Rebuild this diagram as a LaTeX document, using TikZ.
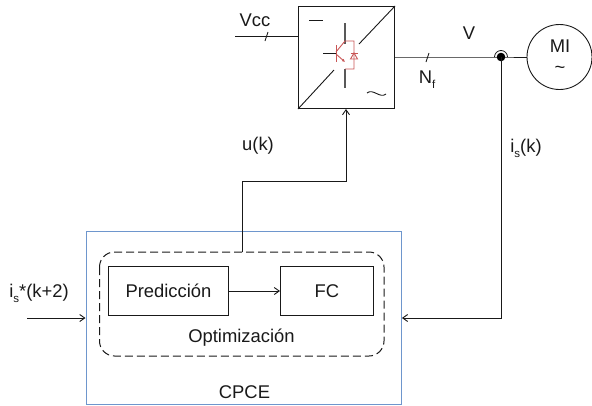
\documentclass[tikz,border=0pt]{standalone}
\usepackage{fontspec}
\setmainfont{Liberation Sans}
\usetikzlibrary{arrows.meta}
\definecolor{igbt}{RGB}{200,85,85}
\definecolor{frameblue}{RGB}{110,150,205}
\definecolor{ink}{RGB}{25,25,25}
\newcommand{\lowtxt}[1]{\raisebox{-0.28em}{\fontsize{11.5}{12}\selectfont #1}}
\tikzset{
  x=1pt,y=-1pt,
  lab/.style={inner sep=0pt,font=\fontsize{18.4}{20}\selectfont,text=ink},
  blockbox/.style={draw=ink,line width=1pt,minimum width=0pt,inner sep=0pt,anchor=north west},
  wire/.style={draw=ink,line width=0.9pt},
  flow/.style={wire,-{Straight Barb[length=5pt,width=7pt]}},
  redl/.style={draw=igbt,line width=0.9pt},
  grayl/.style={draw=black!65,line width=1.1pt}
}
\begin{document}
\begin{tikzpicture}
\useasboundingbox (0,0) rectangle (592,405);
% CPCE frame
\node[draw=frameblue,line width=0.9pt,minimum width=315.5pt,minimum height=173pt,inner sep=0pt,anchor=north west] (cpce) at (85.5,231) {};
\draw[draw=ink,line width=1pt,dash pattern=on 8pt off 4pt,rounded corners=15pt] (99.5,252) rectangle (384,356);
\coordinate (opttop) at (242,252);
\node[blockbox,minimum width=120pt,minimum height=49pt] (pred) at (108,266) {};
\node[blockbox,minimum width=93pt,minimum height=49pt] (fc) at (280,266) {};
\node[lab] at (168.5,291) {Predicción};
\node[lab] at (fc.center) {FC};
\node[lab] (opt) at (241.5,338) {Optimización};
\node[lab] (cpcet) at (244.5,392) {CPCE};
\draw[flow] (pred.east) -- (fc.west);
% converter
\node[blockbox,minimum width=96pt,minimum height=102pt] (conv) at (298,6) {};
\draw[wire] (conv.south west) -- (334,70);
\draw[wire] (359,44) -- (conv.north east);
\draw[wire] (309,20) -- (323,20);
\draw[wire] (367,93) .. controls (373,88) and (380,99) .. (386,94);
% IGBT
\draw[grayl] (345,23) -- (345,44);
\draw[grayl] (345,69) -- (345,88);
\draw[wire] (323,53) -- (336,53);
\draw[redl] (336,45) -- (336,62);
\draw[redl] (336,52) -- (345,41) -- (354,41) -- (354,69) -- (345,69);
\draw[redl,-{Latex[length=3pt,width=3pt]}] (336,54) -- (345,62);
\draw[redl] (350.5,59) -- (357.5,59) -- (354,53) -- cycle;
\draw[redl] (350.5,53) -- (357.5,53);
% Vcc
\coordinate (vccin) at (235,36);
\draw[wire] (vccin) -- (conv.west |- vccin);
\draw[wire] (265,41) -- (268,32);
\node[lab] (vcc) at (255,20) {Vcc};
% motor
\node[draw=ink,line width=0.9pt,circle,minimum size=65pt,inner sep=0pt] (mi) at (559.5,57) {};
\node[lab] at (560,46) {MI};
\node[lab] at (560,70) {\textasciitilde};
\coordinate (j) at (501,57);
\draw[wire] (394,57) -- (j) -- (mi.west);
\draw[wire] (426,62) -- (429,53);
\node[lab] at (469,33) {V};
\node[lab] at (427,80) {N\lowtxt{f}};
% junction
\draw[wire,line width=0.8pt] (494.5,57) arc (180:0:6.5 and -6.5);
\fill[black] (j) circle (4.3pt);
% feedback
\coordinate (fbtop) at (501,318);
\draw[flow] (j) -- (fbtop) -- (cpce.east |- fbtop);
\node[lab] at (526,148) {i\lowtxt{s}(k)};
% control
\coordinate (a1) at (242,181);
\coordinate (a2) at (346,181);
\draw[flow] (opttop) -- (a1) -- (a2) -- (conv.south -| a2);
\node[lab] at (258,146) {u(k)};
% input
\coordinate (inp) at (27,318);
\draw[flow] (inp) -- (cpce.west |- inp);
\node[lab] at (39,293) {i\lowtxt{s}*(k+2)};
\end{tikzpicture}
\end{document}
